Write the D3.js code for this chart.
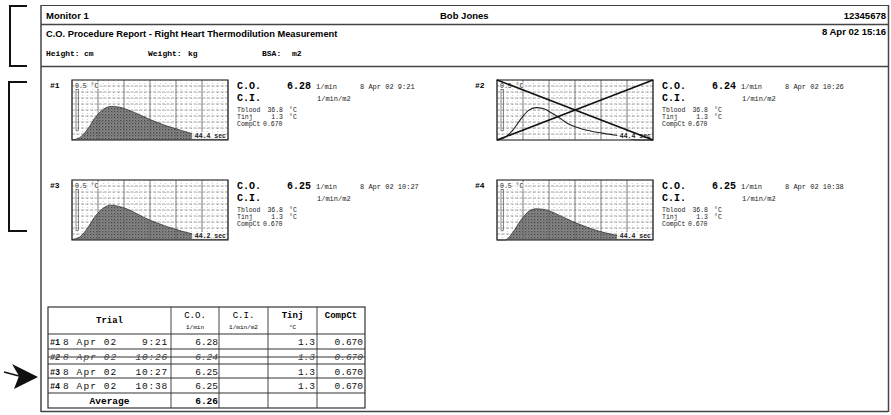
<!DOCTYPE html>
<html><head><meta charset="utf-8">
<script src="https://cdn.jsdelivr.net/npm/d3@7"></script>
<style>body{margin:0;background:#fff}svg{display:block}</style>
</head><body>
<svg id="c" width="891" height="415"></svg>
<script>
// ---- data ----
const monitorName = "Monitor 1";
const patientName = "Bob Jones";
const patientId = "12345678";
const reportTitle = "C.O. Procedure Report - Right Heart Thermodilution Measurement";
const reportDate = "8 Apr 02 15:16";
const trialLabels = ["#1", "#2", "#3", "#4"];
const trialDay = ["8 Apr 02", "8 Apr 02", "8 Apr 02", "8 Apr 02"];
const trialTime = ["9:21", "10:26", "10:27", "10:38"];
const coValues = [6.28, 6.24, 6.25, 6.25];
const tbloodValues = [36.8, 36.8, 36.8, 36.8];
const tinjValues = [1.3, 1.3, 1.3, 1.3];
const compCtValues = [0.670, 0.670, 0.670, 0.670];
const rejected = [false, true, false, false];
const durationLabels = ["44.4", "44.4", "44.2", "44.4"];
const averageCO = 6.26;
const curveTime = [0,1,2,3,4,5,6,7,8,9,10,11,12,13,14,15,16,17,18,19,20];
const curve1 = [0,0.02,0.09,0.19,0.255,0.28,0.275,0.255,0.23,0.2,0.17,0.145,0.12,0.1,0.08,0.06,0.045,0.03,0.018,0.008,0.003];
const curve2 = [0,0.02,0.08,0.17,0.245,0.27,0.26,0.225,0.185,0.14,0.11,0.09,0.075,0.062,0.052,0.042,0.03,0.01,0,0,0];
const curve3 = [0.005,0.025,0.1,0.2,0.265,0.29,0.28,0.26,0.23,0.195,0.165,0.14,0.115,0.095,0.075,0.058,0.044,0.032,0.02,0.01,0.005];
const curve4 = [0,0,0.06,0.16,0.235,0.26,0.255,0.235,0.205,0.175,0.145,0.12,0.095,0.075,0.058,0.043,0.03,0.02,0.012,0.006,0.002];
const curves = [curve1, curve2, curve3, curve4];
const yMax = 0.5;
const tMax = 20;

// ---- drawing ----
const svg = d3.select("#c");
const mono = "'Liberation Mono','DejaVu Sans Mono',monospace";
const sans = "'Liberation Sans',Arial,sans-serif";

const defs = svg.append("defs");
const pat = defs.append("pattern").attr("id","stip").attr("width",3).attr("height",3).attr("patternUnits","userSpaceOnUse");
pat.append("rect").attr("width",3).attr("height",3).attr("fill","#8a8a8a");
pat.append("rect").attr("x",0).attr("y",0).attr("width",1.3).attr("height",1.3).attr("fill","#444");
pat.append("rect").attr("x",1.5).attr("y",1.5).attr("width",1).attr("height",1).attr("fill","#5a5a5a");

// page frame
const frame = svg.append("g").attr("stroke","#444").attr("fill","none");
frame.append("line").attr("x1",41).attr("x2",888).attr("y1",5.5).attr("y2",5.5).attr("stroke-width",1.2);
frame.append("line").attr("x1",41).attr("x2",888).attr("y1",24.5).attr("y2",24.5).attr("stroke-width",1.5);
frame.append("line").attr("x1",41).attr("x2",888).attr("y1",66.5).attr("y2",66.5).attr("stroke-width",1.5);
frame.append("line").attr("x1",41).attr("x2",41).attr("y1",5).attr("y2",412).attr("stroke-width",1.5);
frame.append("line").attr("x1",888.5).attr("x2",888.5).attr("y1",5).attr("y2",412).attr("stroke-width",1.5);
frame.append("line").attr("x1",41).attr("x2",888).attr("y1",411.5).attr("y2",411.5).attr("stroke-width",1.5);

// brackets
const br = svg.append("g").attr("stroke","#111").attr("stroke-width",2).attr("fill","none");
br.append("path").attr("d","M27,6 H10 V66 H27");
br.append("path").attr("d","M27,82 H9 V231 H27");
// arrow
svg.append("path").attr("d","M38,377 L12,364 L19,376 L14,389 Z").attr("fill","#111");
svg.append("line").attr("x1",4).attr("x2",19).attr("y1",372).attr("y2",376).attr("stroke","#111").attr("stroke-width",1.5);

// header text
svg.append("text").attr("x",46).attr("y",19).attr("font-family",sans).attr("font-weight","bold").attr("font-size",9.5).text(monitorName);
svg.append("text").attr("x",440).attr("y",19).attr("font-family",sans).attr("font-weight","bold").attr("font-size",9.5).text(patientName);
svg.append("text").attr("x",886).attr("y",19).attr("text-anchor","end").attr("font-family",sans).attr("font-weight","bold").attr("font-size",9.5).text(patientId);
svg.append("text").attr("x",46).attr("y",37).attr("font-family",sans).attr("font-weight","bold").attr("font-size",9.3).text(reportTitle);
svg.append("text").attr("x",886).attr("y",35).attr("text-anchor","end").attr("font-family",sans).attr("font-weight","bold").attr("font-size",9.5).text(reportDate);
const hdr = [["Height:",46],["cm",84],["Weight:",148],["kg",188],["BSA:",262],["m2",292]];
svg.selectAll("text.hd").data(hdr).join("text").attr("class","hd")
  .attr("x",d=>d[1]).attr("y",56).attr("font-family",mono).attr("font-weight","bold").attr("font-size",8).text(d=>d[0]);

// panels
const panelPos = [{x:72,y:80},{x:497,y:80},{x:72,y:180},{x:497,y:180}];
const W = 156, H = 60;
panelPos.forEach((p, i) => {
  const g = svg.append("g");
  const x = d3.scaleLinear().domain([0, tMax]).range([p.x, p.x + W]);
  const y = d3.scaleLinear().domain([0, yMax]).range([p.y + H, p.y]);
  const pts = curveTime.map((t, k) => [t, curves[i][k]]);
  g.append("text").attr("x",p.x-22).attr("y",p.y+8).attr("font-family",mono).attr("font-weight","bold").attr("font-size",8).text(trialLabels[i]);
  if (!rejected[i]) {
    g.append("path").datum(pts).attr("fill","url(#stip)")
      .attr("d", d3.area().curve(d3.curveMonotoneX).x(d=>x(d[0])).y0(y(0)).y1(d=>y(d[1])));
  }
  const minor = d3.range(0, tMax + 0.001, tMax/30);
  g.selectAll("line.vm").data(minor).join("line").attr("x1",d=>x(d)).attr("x2",d=>x(d)).attr("y1",p.y).attr("y2",p.y+H)
    .attr("stroke","#777").attr("stroke-width",0.5).attr("stroke-dasharray","1,2").attr("opacity",0.8);
  const major = d3.range(0, tMax + 0.001, tMax/6);
  g.selectAll("line.vM").data(major).join("line").attr("x1",d=>x(d)).attr("x2",d=>x(d)).attr("y1",p.y).attr("y2",p.y+H)
    .attr("stroke","#666").attr("stroke-width",0.8);
  const hy = d3.range(0.05, yMax, 0.05);
  g.selectAll("line.h").data(hy).join("line").attr("x1",p.x).attr("x2",p.x+W).attr("y1",d=>y(d)).attr("y2",d=>y(d))
    .attr("stroke","#666").attr("stroke-width",0.6).attr("stroke-dasharray","3,1.5");
  g.append("path").datum(pts).attr("fill","none").attr("stroke", rejected[i] ? "#222" : "#333").attr("stroke-width", rejected[i] ? 1.1 : 0.8)
    .attr("d", d3.line().curve(d3.curveMonotoneX).x(d=>x(d[0])).y(d=>y(d[1])));
  g.append("rect").attr("x",p.x+4).attr("y",y(0.42)).attr("width",2.5).attr("height",y(0.08)-y(0.42)).attr("fill","none").attr("stroke","#555").attr("stroke-width",0.7);
  g.append("rect").attr("x",p.x+2).attr("y",p.y+2).attr("width",26).attr("height",7).attr("fill","#fff").attr("opacity",0.6);
  g.append("text").attr("x",p.x+3).attr("y",p.y+8).attr("font-family",mono).attr("font-size",6.5).attr("fill","#222").text("0.5 °C");
  g.append("rect").attr("x",p.x+W-36).attr("y",p.y+H-8).attr("width",34).attr("height",7).attr("fill","#fff").attr("opacity",0.85);
  g.append("text").attr("x",p.x+W-2).attr("y",p.y+H-2).attr("text-anchor","end").attr("font-family",mono).attr("font-weight","bold").attr("font-size",6.5).attr("fill","#222").text(durationLabels[i] + " sec");
  g.append("rect").attr("x",p.x).attr("y",p.y).attr("width",W).attr("height",H).attr("fill","none").attr("stroke","#333").attr("stroke-width",1.2);
  if (rejected[i]) {
    g.append("line").attr("x1",p.x).attr("y1",p.y).attr("x2",p.x+W).attr("y2",p.y+H).attr("stroke","#111").attr("stroke-width",1.6);
    g.append("line").attr("x1",p.x).attr("y1",p.y+H).attr("x2",p.x+W).attr("y2",p.y).attr("stroke","#111").attr("stroke-width",1.6);
  }
  const tx = p.x + 165;
  g.append("text").attr("x",tx).attr("y",p.y+9).attr("font-family",mono).attr("font-weight","bold").attr("font-size",10).text("C.O.");
  g.append("text").attr("x",tx+74).attr("y",p.y+9).attr("text-anchor","end").attr("font-family",mono).attr("font-weight","bold").attr("font-size",10).text(coValues[i].toFixed(2));
  g.append("text").attr("x",tx+79).attr("y",p.y+9).attr("font-family",mono).attr("font-size",7).attr("fill","#222").text("1/min");
  g.append("text").attr("x",tx+123).attr("y",p.y+9).attr("font-family",mono).attr("font-size",7).attr("fill","#222").text(trialDay[i] + " " + trialTime[i]);
  g.append("text").attr("x",tx).attr("y",p.y+21).attr("font-family",mono).attr("font-weight","bold").attr("font-size",10).text("C.I.");
  g.append("text").attr("x",tx+80).attr("y",p.y+21).attr("font-family",mono).attr("font-size",7).attr("fill","#222").text("1/min/m2");
  const rows = [["Tblood", tbloodValues[i].toFixed(1), "°C", 32],["Tinj", tinjValues[i].toFixed(1), "°C", 39],["CompCt", "", "", 46]];
  rows.forEach(r => {
    g.append("text").attr("x",tx).attr("y",p.y+r[3]).attr("font-family",mono).attr("font-size",6.5).attr("fill","#222").text(r[0]);
    if (r[1]) {
      g.append("text").attr("x",tx+46).attr("y",p.y+r[3]).attr("text-anchor","end").attr("font-family",mono).attr("font-size",6.5).attr("fill","#222").text(r[1]);
      g.append("text").attr("x",tx+52).attr("y",p.y+r[3]).attr("font-family",mono).attr("font-size",6.5).attr("fill","#222").text(r[2]);
    }
  });
  g.append("text").attr("x",tx+26).attr("y",p.y+46).attr("font-family",mono).attr("font-size",6.5).attr("fill","#222").text(compCtValues[i].toFixed(3));
});

// table
const T = {x0:48, x1:365, y0:307};
const colX = [48, 171, 219, 268, 317, 365];
const rowY = [334, 349, 364, 378, 393, 408];
const tb = svg.append("g");
tb.append("rect").attr("x",T.x0).attr("y",T.y0).attr("width",T.x1-T.x0).attr("height",408-T.y0).attr("fill","none").attr("stroke","#333").attr("stroke-width",1.2);
tb.selectAll("line.c").data(colX.slice(1,5)).join("line").attr("x1",d=>d).attr("x2",d=>d).attr("y1",T.y0).attr("y2",408).attr("stroke","#444").attr("stroke-width",1);
tb.selectAll("line.r").data(rowY.slice(0,5)).join("line").attr("x1",T.x0).attr("x2",T.x1).attr("y1",d=>d).attr("y2",d=>d).attr("stroke","#333").attr("stroke-width",1.1);
const hf = (t,xx,yy,sz,bold) => tb.append("text").attr("x",xx).attr("y",yy).attr("text-anchor","middle").attr("font-family",mono).attr("font-weight",bold?"bold":"normal").attr("font-size",sz).text(t);
hf("Trial",(colX[0]+colX[1])/2,323,9,true);
hf("C.O.",(colX[1]+colX[2])/2,318,9,false);
hf("1/min",(colX[1]+colX[2])/2,329,6,false);
hf("C.I.",(colX[2]+colX[3])/2,318,9,false);
hf("1/min/m2",(colX[2]+colX[3])/2,329,6,false);
hf("Tinj",(colX[3]+colX[4])/2,318,9,true);
hf("°C",(colX[3]+colX[4])/2,329,6,false);
hf("CompCt",(colX[4]+colX[5])/2,318,9,true);
trialLabels.forEach((lab, i) => {
  const yy = rowY[i] + 11;
  const st = rejected[i] ? "italic" : "normal";
  const col = rejected[i] ? "#444" : "#111";
  const tt = (t,xx,anchor,bold,ls) => tb.append("text").attr("x",xx).attr("y",yy).attr("text-anchor",anchor).attr("font-family",mono).attr("font-style",st).attr("font-weight",bold?"bold":"normal").attr("font-size",bold?8.5:9.5).attr("letter-spacing",ls||0).attr("fill",col).text(t);
  tt(lab, 50, "start", true);
  tt(trialDay[i], 63, "start", false, 1.1);
  tt(trialTime[i], 168, "end", false, 0.8);
  tt(coValues[i].toFixed(2), 218, "end", false);
  tt(tinjValues[i].toFixed(1), 315, "end", false);
  tt(compCtValues[i].toFixed(3), 363, "end", false);
  if (rejected[i]) {
    tb.append("line").attr("x1",T.x0).attr("x2",T.x1).attr("y1",yy-3).attr("y2",yy-3).attr("stroke","#333").attr("stroke-width",1);
  }
});
tb.append("text").attr("x",(colX[0]+colX[1])/2).attr("y",404).attr("text-anchor","middle").attr("font-family",mono).attr("font-weight","bold").attr("font-size",9.5).text("Average");
tb.append("text").attr("x",218).attr("y",404).attr("text-anchor","end").attr("font-family",mono).attr("font-weight","bold").attr("font-size",9.5).text(averageCO.toFixed(2));
</script>
</body></html>
